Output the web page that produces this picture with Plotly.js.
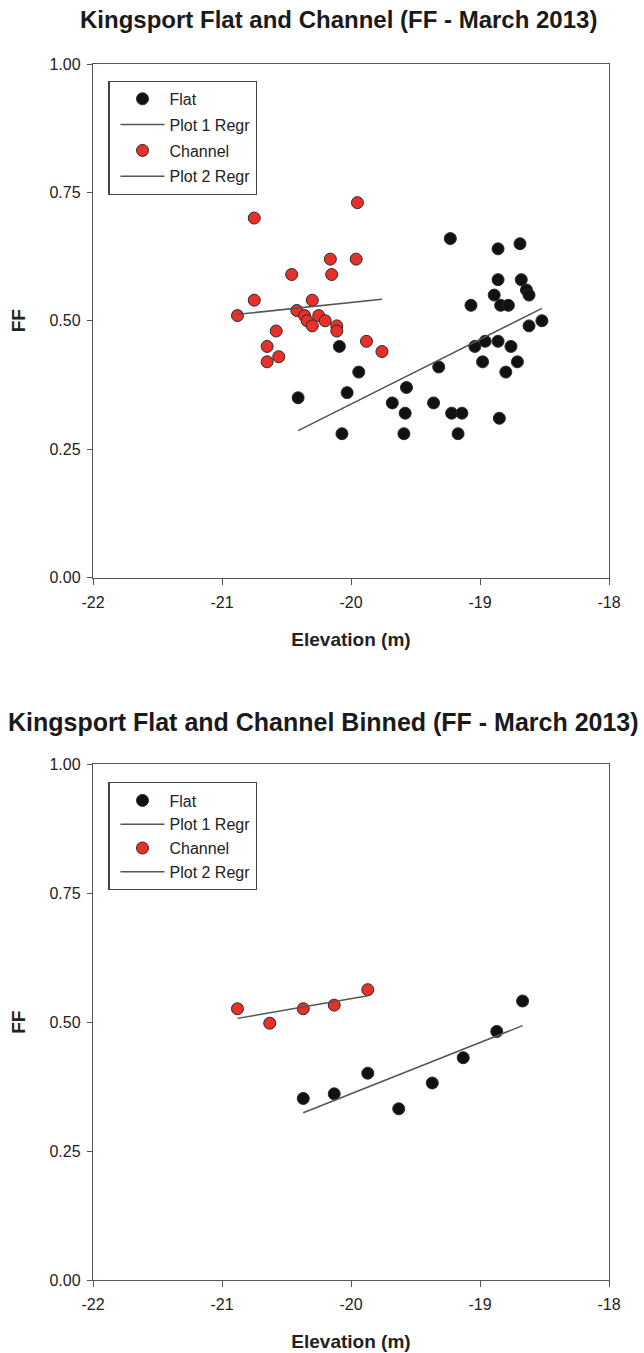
<!DOCTYPE html>
<html>
<head>
<meta charset="utf-8">
<script src="https://cdn.plot.ly/plotly-3.0.1.min.js"></script>
<style>html,body{margin:0;padding:0;background:#fff;}#chart{width:644px;height:1353px;}</style>
</head>
<body>
<div id="chart"></div>
<script>
// ---- Top chart: all samples ----
var flatX = [-19.23,-18.86,-18.69,-18.86,-18.68,-18.64,-18.62,-18.89,-19.07,-18.84,-18.78,-18.52,-18.62,
             -20.09,-19.04,-18.96,-18.86,-18.76,-18.98,-18.71,-18.80,-19.32,-19.94,-20.03,-20.41,-19.57,
             -19.68,-19.36,-19.58,-19.22,-19.14,-18.85,-20.07,-19.59,-19.17];
var flatY = [0.66,0.64,0.65,0.58,0.58,0.56,0.55,0.55,0.53,0.53,0.53,0.50,0.49,
             0.45,0.45,0.46,0.46,0.45,0.42,0.42,0.40,0.41,0.40,0.36,0.35,0.37,
             0.34,0.34,0.32,0.32,0.32,0.31,0.28,0.28,0.28];
var channelX = [-20.75,-19.95,-20.16,-19.96,-20.46,-20.15,-20.75,-20.30,-20.88,-20.42,-20.36,-20.34,
                -20.30,-20.25,-20.20,-20.11,-20.11,-20.58,-20.65,-20.56,-20.65,-19.88,-19.76];
var channelY = [0.70,0.73,0.62,0.62,0.59,0.59,0.54,0.54,0.51,0.52,0.51,0.50,
                0.49,0.51,0.50,0.49,0.48,0.48,0.45,0.43,0.42,0.46,0.44];

// ---- Bottom chart: binned ----
var flatBinX = [-20.37,-20.13,-19.87,-19.63,-19.37,-19.13,-18.87,-18.67];
var flatBinY = [0.352,0.361,0.401,0.332,0.382,0.431,0.482,0.541];
var channelBinX = [-20.88,-20.63,-20.37,-20.13,-19.87];
var channelBinY = [0.526,0.498,0.526,0.533,0.563];

// ---- Labels ----
var title1 = "Kingsport Flat and Channel (FF - March 2013)";
var title2 = "Kingsport Flat and Channel Binned (FF - March 2013)";
var xTitle = "Elevation (m)";
var yTitle = "FF";
var xTicks = [-22,-21,-20,-19,-18];
var yTicks = [0,0.25,0.5,0.75,1];

function regr(xs, ys) {
  var n = xs.length, mx = 0, my = 0;
  for (var i = 0; i < n; i++) { mx += xs[i]; my += ys[i]; }
  mx /= n; my /= n;
  var sxy = 0, sxx = 0;
  for (var j = 0; j < n; j++) { sxy += (xs[j]-mx)*(ys[j]-my); sxx += (xs[j]-mx)*(xs[j]-mx); }
  var b = sxy / sxx, a = my - b*mx;
  var x0 = Math.min.apply(null, xs), x1 = Math.max.apply(null, xs);
  return {x: [x0, x1], y: [a + b*x0, a + b*x1]};
}

var FONT = '"Liberation Sans", Arial, sans-serif';
var RED = '#e8302a';
var BLACK = '#111111';
var LINEC = '#555555';

function pts(x, y, name, color, xa, ya, lg, grp) {
  return {type:'scatter', mode:'markers', x:x, y:y, name:name, xaxis:xa, yaxis:ya, legend:lg,
    legendgroup:grp,
    marker:{size:12, color:color, line:{color:'#2a2a2a', width:1}}, hoverinfo:'x+y'};
}
function line(r, name, xa, ya, lg, grp) {
  return {type:'scatter', mode:'lines', x:r.x, y:r.y, name:name, xaxis:xa, yaxis:ya, legend:lg,
    legendgroup:grp, line:{color:LINEC, width:1.5}, hoverinfo:'skip'};
}

var data = [
  pts(flatX, flatY, 'Flat', BLACK, 'x', 'y', 'legend', 'a1'),
  line(regr(flatX, flatY), 'Plot 1 Regr', 'x', 'y', 'legend', 'a2'),
  pts(channelX, channelY, 'Channel', RED, 'x', 'y', 'legend', 'a3'),
  line(regr(channelX, channelY), 'Plot 2 Regr', 'x', 'y', 'legend', 'a4'),
  pts(flatBinX, flatBinY, 'Flat', BLACK, 'x2', 'y2', 'legend2', 'b1'),
  line(regr(flatBinX, flatBinY), 'Plot 1 Regr', 'x2', 'y2', 'legend2', 'b2'),
  pts(channelBinX, channelBinY, 'Channel', RED, 'x2', 'y2', 'legend2', 'b3'),
  line(regr(channelBinX, channelBinY), 'Plot 2 Regr', 'x2', 'y2', 'legend2', 'b4')
];

var H = 1353, W = 644, ML = 93, MR = 35;
function py(p) { return 1 - p / H; }
function px(p) { return (p - ML) / (W - ML - MR); }

function xaxis(anchor) {
  return {anchor:anchor, range:[-22,-18], tickvals:xTicks, ticktext:xTicks.map(String),
    ticks:'outside', ticklen:6, tickwidth:1, tickcolor:'#555', ticklabelstandoff:4,
    showline:true, linecolor:'#555', linewidth:1.2, mirror:true, showgrid:false, zeroline:false,
    tickfont:{family:FONT, size:16, color:'#222'},
    title:{text:xTitle, font:{family:FONT, size:19, color:'#222', weight:'bold'}, standoff:22}};
}
function yaxis(anchor, dom) {
  return {anchor:anchor, domain:dom, range:[0,1], tickvals:yTicks, ticktext:yTicks.map(function(v){return v.toFixed(2);}),
    ticks:'outside', ticklen:5, tickwidth:1, tickcolor:'#555', ticklabelstandoff:3,
    showline:true, linecolor:'#555', linewidth:1.2, mirror:true, showgrid:false, zeroline:false,
    tickfont:{family:FONT, size:16, color:'#222'},
    title:{text:yTitle, font:{family:FONT, size:19, color:'#222', weight:'bold'}, standoff:18}};
}
function legend(top, gap) {
  return {x:px(108.3), xanchor:'left', y:py(top), yanchor:'top',
    bordercolor:'#444', borderwidth:1.2, bgcolor:'#fff',
    font:{family:FONT, size:16, color:'#222'}, traceorder:'grouped', tracegroupgap:gap,
    indentation:6, itemwidth:44};
}

var layout = {
  width:W, height:H, margin:{l:ML, r:MR, t:0, b:0}, paper_bgcolor:'#fff', plot_bgcolor:'#fff',
  showlegend:true,
  xaxis: xaxis('y'),
  yaxis: yaxis('x', [py(577.5), py(64)]),
  xaxis2: xaxis('y2'),
  yaxis2: yaxis('x2', [py(1280), py(764.3)]),
  legend: legend(80.7, 2),
  legend2: legend(782.3, 0),
  annotations: [
    {text:title1, xref:'paper', yref:'paper', x:px(338), y:py(35), xanchor:'center', yanchor:'bottom',
     showarrow:false, font:{family:FONT, size:24, color:'#1a1a1a', weight:'bold'}},
    {text:title2, xref:'paper', yref:'paper', x:px(323), y:py(738), xanchor:'center', yanchor:'bottom',
     showarrow:false, font:{family:FONT, size:25, color:'#1a1a1a', weight:'bold'}}
  ]
};

Plotly.newPlot('chart', data, layout, {displayModeBar:false, staticPlot:true});
</script>
</body>
</html>
